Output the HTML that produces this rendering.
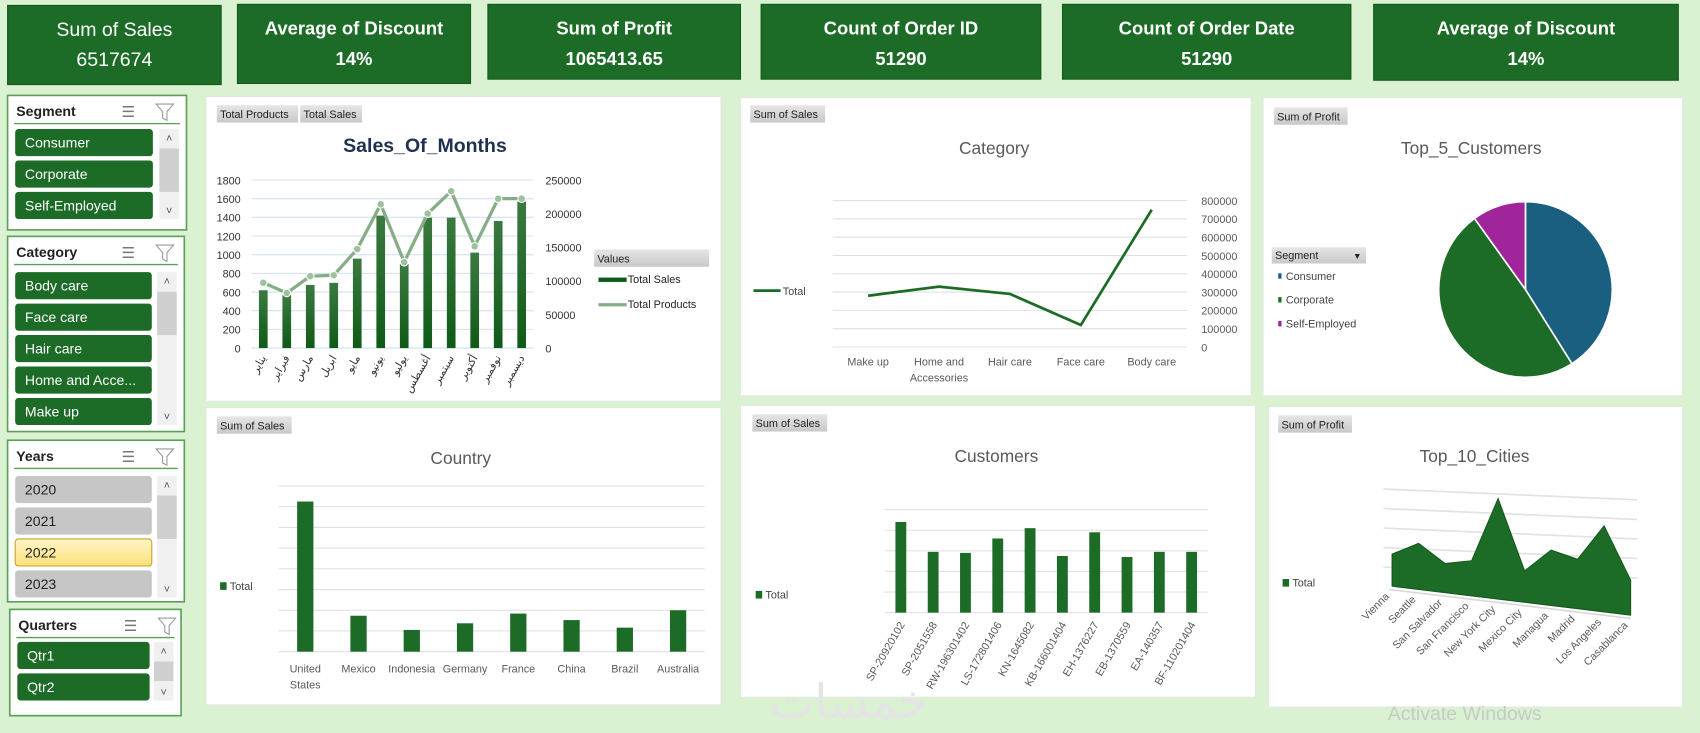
<!DOCTYPE html>
<html><head><meta charset="utf-8"><style>
html,body{margin:0;padding:0;background:#d9f0d0;overflow:hidden}
svg{display:block}
text{font-family:"Liberation Sans","DejaVu Sans",sans-serif}
</style></head><body>
<svg id="dash" width="1700" height="733" viewBox="0 0 1568 676" preserveAspectRatio="none" xmlns="http://www.w3.org/2000/svg">
<defs>
<linearGradient id="barg" x1="0" y1="0" x2="0" y2="1"><stop offset="0" stop-color="#3a7a40"/><stop offset="1" stop-color="#0f5a18"/></linearGradient>
<linearGradient id="selg" x1="0" y1="0" x2="0" y2="1"><stop offset="0" stop-color="#fff6c8"/><stop offset="1" stop-color="#fbe07a"/></linearGradient>
<linearGradient id="btng" x1="0" y1="0" x2="0" y2="1"><stop offset="0" stop-color="#e6e6e6"/><stop offset="1" stop-color="#c8c8c8"/></linearGradient>
</defs>
<rect x="0" y="0" width="1568" height="676" fill="#daf1d2"/>
<g id="kpis"></g>
<g id="slicers"></g>
<g id="panels"></g>
<g id="c1"></g>
<g id="c2"></g>
<g id="c3"></g>
<g id="c4"></g>
<g id="c5"></g>
<g id="c6"></g>
<text x="783" y="662" font-size="44" fill="#e4e4e4" text-anchor="middle" font-family="DejaVu Sans,sans-serif">خمسات</text>
<text x="1280" y="664" font-size="18" fill="#c4ccc4">Activate Windows</text>
</svg>
<script>
const NS="http://www.w3.org/2000/svg";
function mk(parent,tag,attrs,txt){const e=document.createElementNS(NS,tag);for(const k in attrs)e.setAttribute(k,attrs[k]);if(txt!==undefined)e.textContent=txt;parent.appendChild(e);return e;}
const G=id=>document.getElementById(id);

// ---------- KPIs ----------
const kpiTitles=["Sum of Sales","Average of Discount","Sum of Profit","Count of Order ID","Count of Order Date","Average of Discount"];
const kpiValues=["6517674","14%","1065413.65","51290","51290","14%"];
const kpiBoxes=[[7,5,197,73],[219,4,215,73],[450,4,233,69],[702,4,258,69],[980,4,266,69],[1267,4,281,70]];
kpiBoxes.forEach((b,i)=>{
  const g=mk(G('kpis'),'g',{});
  
  
  mk(g,'rect',{x:b[0],y:b[1],width:b[2],height:b[3],fill:'#1c6b26',stroke:'#145a1c'});
  const bold=i>0?'bold':'normal';
  const t1=mk(g,'text',{x:b[0]+b[2]/2,y:b[1]+28,'font-size':i>0?17:18,'font-weight':bold,fill:'#fff','text-anchor':'middle'},kpiTitles[i]);
  
  
  const t2=mk(g,'text',{x:b[0]+b[2]/2,y:b[1]+56,'font-size':i>0?17:18,'font-weight':bold,fill:'#fff','text-anchor':'middle'},kpiValues[i]);
  
  
});

// ---------- Slicers ----------
const slicers=[
 {name:'Segment',box:[7,88,165,124],items:['Consumer','Corporate','Self-Employed'],y0:119,iw:127,sel:null,gray:false},
 {name:'Category',box:[7,218,163,180],items:['Body care','Face care','Hair care','Home and Acce...','Make up'],y0:251,iw:126,sel:null,gray:false},
 {name:'Years',box:[7,406,163,149],items:['2020','2021','2022','2023'],y0:439,iw:126,sel:2,gray:true},
 {name:'Quarters',box:[9,562,158,98],items:['Qtr1','Qtr2'],y0:592,iw:122,sel:null,gray:false}
];
slicers.forEach(s=>{
  const g=mk(G('slicers'),'g',{});
  
  
  const [x,y,w,h]=s.box;
  mk(g,'rect',{x:x,y:y,width:w,height:h,fill:'#fff',stroke:'#5a9e5a','stroke-width':1.5});
  mk(g,'text',{x:x+8,y:y+19,'font-size':13,'font-weight':'bold',fill:'#222'},s.name);
  const ic=mk(g,'text',{x:x+105,y:y+20,'font-size':14,fill:'#777'},'☰');
  
  
  const fl=mk(g,'path',{d:`M${x+137} ${y+8} h16 l-6 7 v8 l-4 -2 v-6 z`,fill:'none',stroke:'#999','stroke-width':1});
  
  
  mk(g,'line',{x1:x+6,y1:y+26,x2:x+w-6,y2:y+26,stroke:'#5a9e5a','stroke-width':1.2});
  const sx=x+w-26;
  mk(g,'rect',{x:sx+1,y:s.y0,width:18,height:s.items.length*29-4,fill:'#f0f0f0'});
  mk(g,'rect',{x:sx+1,y:s.y0+18,width:18,height:Math.min(40,s.items.length*29-40),fill:'#cfcfcf'});
  mk(g,'text',{x:sx+10,y:s.y0+12,'font-size':10,fill:'#555','text-anchor':'middle'},'˄');
  mk(g,'text',{x:sx+10,y:s.y0+s.items.length*29-8,'font-size':10,fill:'#555','text-anchor':'middle'},'˅');
  s.items.forEach((it,i)=>{
    const yy=s.y0+i*29;
    let fill=s.gray?'#c6c6c6':'#1c6b26',tc=s.gray?'#222':'#fff',stroke='none';
    if(s.sel===i){fill='url(#selg)';tc='#222';stroke='#c9a227';}
    const r=mk(g,'rect',{x:x+7,y:yy,width:s.iw,height:25,rx:3,fill:fill,stroke:stroke});
    
    
    mk(g,'text',{x:x+16,y:yy+17,'font-size':13,fill:tc},it);
  });
});

// ---------- Panels ----------
const panels=[[190,89,475,281],[683,90,471,275],[1165,90,387,275],[190,376,475,274],[683,374,475,269],[1170,375,382,277]];
panels.forEach(p=>{
  const r=mk(G('panels'),'rect',{x:p[0],y:p[1],width:p[2],height:p[3],fill:'#fff',stroke:'#e2e8e2'});
  
  
});
function fieldBtn(par,x,y,w,label){
  const g=mk(par,'g',{});
  
  
  mk(g,'rect',{x:x,y:y,width:w,height:16,fill:'url(#btng)'});
  mk(g,'text',{x:x+3,y:y+12,'font-size':10,fill:'#222'},label);
}
function title(par,x,y,t,size,bold,color){
  const e=mk(par,'text',{x:x,y:y,'font-size':size,'font-weight':bold?'bold':'normal',fill:color,'text-anchor':'middle'},t);
  
  
}
function legendSq(par,x,y,label){
  const g=mk(par,'g',{});
  
  
  mk(g,'rect',{x:x,y:y-7,width:6,height:7,fill:'#1c6b26'});
  mk(g,'text',{x:x+9,y:y,'font-size':10,fill:'#444'},label);
}

// ---------- Chart 1: Sales_Of_Months ----------
const months=["يناير","فبراير","مارس","ابريل","مايو","يونيو","يوليو","أغسطس","سبتمبر","أكتوبر","نوفمبر","ديسمبر"];
const totalSales=[86000,79000,94000,97000,133000,197000,125000,194000,194000,142000,189000,218000];
const totalProducts=[700,590,770,780,1060,1540,920,1440,1680,1090,1600,1600];
const leftTicks=[0,200,400,600,800,1000,1200,1400,1600,1800];
const rightTicks=[0,50000,100000,150000,200000,250000];
(function(){
  const g=G('c1');
  fieldBtn(g,200,97,75,'Total Products');fieldBtn(g,277,97,57,'Total Sales');
  title(g,392,140,'Sales_Of_Months',18,true,'#1f3050');
  const x0=232,x1=492,yb=321,yt=166;
  const yL=v=>yb-(v/1800)*(yb-yt), yR=v=>yb-(v/250000)*(yb-yt);
  const bw=(x1-x0)/months.length, xc=i=>x0+bw*(i+0.5);
  leftTicks.forEach(t=>{
    mk(g,'line',{x1:x0,x2:x1,y1:yL(t),y2:yL(t),stroke:'#cfe0f5','stroke-width':1});
    const e=mk(g,'text',{x:222,y:yL(t)+4,'font-size':10,fill:'#333','text-anchor':'end'},t);
    
    
  });
  rightTicks.forEach(t=>{
    const e=mk(g,'text',{x:503,y:yR(t)+4,'font-size':10,fill:'#333'},t);
    
    
  });
  totalSales.forEach((v,i)=>{
    const b=mk(g,'rect',{x:xc(i)-4,y:yR(v),width:8,height:yb-yR(v),fill:'url(#barg)'});
    
    
  });
  const pts=totalProducts.map((v,i)=>xc(i)+','+yL(v)).join(' ');
  const pl=mk(g,'polyline',{points:pts,fill:'none',stroke:'#86ad86','stroke-width':3});
  
  
  totalProducts.forEach((v,i)=>{
    const c=mk(g,'circle',{cx:xc(i),cy:yL(v),r:3.5,fill:'#9dc09d',stroke:'#fff','stroke-width':1});
    
    
  });
  months.forEach((m,i)=>{
    const e=mk(g,'text',{x:xc(i)+3,y:330,'font-size':10,fill:'#333','text-anchor':'end',transform:`rotate(-60 ${xc(i)+3} 330)`,'font-family':'DejaVu Sans,sans-serif'},m);
    
    
  });
  const lg=mk(g,'g',{});
  
  
  mk(lg,'rect',{x:548,y:230,width:106,height:16,fill:'url(#btng)'});
  mk(lg,'text',{x:551,y:242,'font-size':10,fill:'#222'},'Values');
  mk(lg,'rect',{x:552,y:256,width:26,height:4,fill:'#0f5a18'});
  mk(lg,'text',{x:579,y:261,'font-size':10,fill:'#222'},'Total Sales');
  mk(lg,'line',{x1:552,x2:578,y1:281,y2:281,stroke:'#86ad86','stroke-width':3});
  mk(lg,'text',{x:579,y:284,'font-size':10,fill:'#222'},'Total Products');
})();

// ---------- Chart 2: Category ----------
const categories=["Make up","Home and|Accessories","Hair care","Face care","Body care"];
const categorySales=[280000,330000,290000,120000,750000];
const catTicks=[0,100000,200000,300000,400000,500000,600000,700000,800000];
(function(){
  const g=G('c2');
  fieldBtn(g,692,97,69,'Sum of Sales');
  title(g,917,142,'Category',16,false,'#595959');
  const x0=768,x1=1095,yb=320,yt=185;
  const y=v=>yb-(v/800000)*(yb-yt);
  const xc=i=>x0+(x1-x0)/categories.length*(i+0.5);
  catTicks.forEach(t=>{
    mk(g,'line',{x1:x0,x2:x1,y1:y(t),y2:y(t),stroke:'#e0e0e0'});
    const e=mk(g,'text',{x:1108,y:y(t)+4,'font-size':10,fill:'#595959'},t);
    
    
  });
  const pl=mk(g,'polyline',{points:categorySales.map((v,i)=>xc(i)+','+y(v)).join(' '),fill:'none',stroke:'#1c6b26','stroke-width':2.5});
  
  
  categories.forEach((c,i)=>{
    c.split('|').forEach((part,j)=>{
      const e=mk(g,'text',{x:xc(i),y:337+j*15,'font-size':10,fill:'#595959','text-anchor':'middle'},part);
      
      
    });
  });
  const lg=mk(g,'g',{});
  
  
  mk(lg,'line',{x1:695,x2:720,y1:268,y2:268,stroke:'#1c6b26','stroke-width':2.5});
  mk(lg,'text',{x:722,y:272,'font-size':10,fill:'#444'},'Total');
})();

// ---------- Chart 3: Top_5_Customers pie ----------
const segments=["Consumer","Corporate","Self-Employed"];
const segmentProfit=[41,49,10];
const segColors=['#1a5e80','#1c6b26','#a0259a'];
(function(){
  const g=G('c3');
  fieldBtn(g,1175,99,68,'Sum of Profit');
  title(g,1357,142,'Top_5_Customers',16,false,'#595959');
  const cx=1407,cy=267,rx=80,ry=81;
  const tot=segmentProfit.reduce((a,b)=>a+b,0);let a0=-Math.PI/2;
  segmentProfit.forEach((v,i)=>{
    const a1=a0+v/tot*2*Math.PI;
    const p=(a)=>[cx+rx*Math.cos(a),cy+ry*Math.sin(a)];
    const [xa,ya]=p(a0),[xb,yb]=p(a1);
    const s=mk(g,'path',{d:`M${cx} ${cy} L${xa} ${ya} A${rx} ${ry} 0 ${a1-a0>Math.PI?1:0} 1 ${xb} ${yb} Z`,fill:segColors[i],stroke:'#fff','stroke-width':1.5});
    
    
    a0=a1;
  });
  const lg=mk(g,'g',{});
  
  
  mk(lg,'rect',{x:1173,y:228,width:87,height:15,fill:'url(#btng)'});
  mk(lg,'text',{x:1176,y:239,'font-size':10,fill:'#222'},'Segment');
  mk(lg,'text',{x:1248,y:239,'font-size':8,fill:'#222'},'▼');
  segments.forEach((s,i)=>{
    mk(lg,'rect',{x:1179,y:252+i*22,width:3,height:5,fill:segColors[i]});
    mk(lg,'text',{x:1186,y:258+i*22,'font-size':10,fill:'#444'},s);
  });
})();

// ---------- Chart 4: Country ----------
const countries=["United|States","Mexico","Indonesia","Germany","France","China","Brazil","Australia"];
const countrySales=[1450000,347000,210000,274000,368000,305000,232000,400000];
(function(){
  const g=G('c4');
  fieldBtn(g,200,384,69,'Sum of Sales');
  title(g,425,428,'Country',16,false,'#595959');
  const x0=257,x1=650,yb=601,step=19.1,unit=200000;
  const y=v=>yb-v/unit*step;
  for(let k=0;k<=8;k++) mk(g,'line',{x1:x0,x2:x1,y1:yb-k*step,y2:yb-k*step,stroke:'#e0e0e0'});
  const bw=(x1-x0)/countries.length;
  countrySales.forEach((v,i)=>{
    const xc=x0+bw*(i+0.5);
    const b=mk(g,'rect',{x:xc-7.5,y:y(v),width:15,height:yb-y(v),fill:'#1c6b26'});
    
    
    countries[i].split('|').forEach((part,j)=>{
      const e=mk(g,'text',{x:xc,y:620+j*15,'font-size':10,fill:'#595959','text-anchor':'middle'},part);
      
      
    });
  });
  legendSq(g,203,544,'Total');
})();

// ---------- Chart 5: Customers ----------
const customers=["SP-20920102","SP-2051558","RW-196301402","LS-172801406","KN-1645082","KB-166001404","EH-1376227","EB-1370559","EA-140357","BF-110201404"];
const customerSales=[88000,59000,58000,72000,82000,55000,78000,54000,59000,59000];
(function(){
  const g=G('c5');
  fieldBtn(g,694,382,69,'Sum of Sales');
  title(g,919,426,'Customers',16,false,'#595959');
  const x0=816,x1=1114,yb=565,step=19,unit=20000;
  const y=v=>yb-v/unit*step;
  for(let k=0;k<=5;k++) mk(g,'line',{x1:x0,x2:x1,y1:yb-k*step,y2:yb-k*step,stroke:'#e0e0e0'});
  const bw=(x1-x0)/customers.length;
  customerSales.forEach((v,i)=>{
    const xc=x0+bw*(i+0.5);
    const b=mk(g,'rect',{x:xc-5,y:y(v),width:10,height:yb-y(v),fill:'#1c6b26'});
    
    
    const e=mk(g,'text',{x:xc+4,y:576,'font-size':10,fill:'#595959','text-anchor':'end',transform:`rotate(-60 ${xc+4} 576)`},customers[i]);
    
    
  });
  legendSq(g,697,552,'Total');
})();

// ---------- Chart 6: Top_10_Cities (3D area) ----------
const cities=["Vienna","Seattle","San Salvador","San Francisco","New York City","Mexico City","Managua","Madrid","Los Angeles","Casablanca"];
const cityProfit=[96,138,87,105,301,94,166,148,258,105];
(function(){
  const g=G('c6');
  fieldBtn(g,1179,383,68,'Sum of Profit');
  title(g,1360,426,'Top_10_Cities',16,false,'#595959');
  [451,469,487,505,523].forEach(yl=>mk(g,'line',{x1:1276,y1:yl,x2:1510,y2:yl+10,stroke:'#e2e2e2','stroke-width':1.5}));
  const bx0=1284,by0=540.6,bx1=1504,by1=567.3,scale=1/3.25;
  const bx=i=>bx0+(bx1-bx0)*i/(cities.length-1), by=i=>by0+(by1-by0)*i/(cities.length-1);
  let d=`M${bx(0)} ${by(0)} `;
  cityProfit.forEach((v,i)=>{d+=`L${bx(i)} ${by(i)-v*scale} `;});
  d+=`L${bx(cities.length-1)} ${by(cities.length-1)} Z`;
  const a=mk(g,'path',{d:d,fill:'#1c6b26',stroke:'#145a1c'});
  
  
  mk(g,'line',{x1:bx0-3,y1:by0+3,x2:bx1,y2:by1+3,stroke:'#d8d8d8','stroke-width':1.5});
  cities.forEach((c,i)=>{
    const xx=bx(i)-2,yy=by(i)+10;
    const e=mk(g,'text',{x:xx,y:yy,'font-size':10,fill:'#595959','text-anchor':'end',transform:`rotate(-45 ${xx} ${yy})`},c);
    
    
  });
  legendSq(g,1183,541,'Total');
})();
</script>
</body></html>
